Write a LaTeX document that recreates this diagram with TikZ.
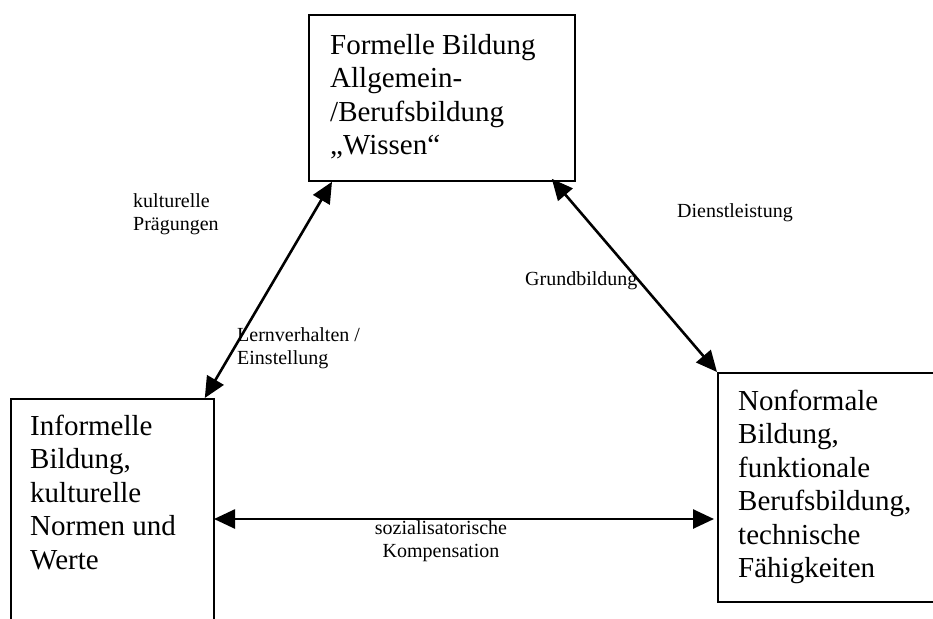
\documentclass[tikz,border=0pt]{standalone}
\usepackage{fontspec}
\setmainfont{Liberation Serif}
\usetikzlibrary{arrows.meta}
\begin{document}
\begin{tikzpicture}[x=1pt,y=-1pt,
  box/.style={draw,line width=1.8pt,inner sep=0pt,anchor=north west},
  big/.style={font=\fontsize{29}{33.5}\selectfont,align=left,inner sep=0pt,anchor=north west},
  small/.style={font=\fontsize{20}{22.5}\selectfont,align=left,inner sep=0pt,anchor=north west},
  link/.style={line width=2.6pt,{Triangle[length=21pt,width=19pt]}-{Triangle[length=21pt,width=19pt]}}]
\useasboundingbox (0,0) rectangle (933,618);
\clip (0,0) rectangle (933,618);
% boxes
\node[box,minimum width=266pt,minimum height=166pt] (top) at (308,14) {};
\node[box,minimum width=203pt,minimum height=260pt] (left) at (10,398) {};
\node[box,minimum width=250pt,minimum height=229pt] (right) at (717,372) {};
% box texts
\node[big] (toptext) at (330,30.5) {\strut Formelle Bildung\\Allgemein-\\/Berufsbildung\\„Wissen“};
\node[big] (lefttext) at (30,411.5) {\strut Informelle\\Bildung,\\kulturelle\\Normen und\\Werte};
\node[big] (righttext) at (738,386.5) {\strut Nonformale\\Bildung,\\funktionale\\Berufsbildung,\\technische\\Fähigkeiten};
% connectors
\coordinate (a1) at ([xshift=24pt]top.south west);
\coordinate (a2) at ([xshift=-10pt]left.north east);
\coordinate (b1) at ([xshift=-24pt,yshift=3pt]top.south east);
\coordinate (b2) at (right.north west);
\coordinate (h1) at (214,519);
\coordinate (h2) at (714,519);
\draw[link] (a2) -- (a1);
\draw[link] (b1) -- (b2);
\draw[link] (h1) -- (h2);
% labels
\node[small] (lkult) at (133,192) {\strut kulturelle\\Prägungen};
\node[small] (llern) at (237,326) {\strut Lernverhalten /\\Einstellung};
\node[small] (ldienst) at (677,202) {\strut Dienstleistung};
\node[small] (lgrund) at (525,270) {\strut Grundbildung};
\node[small,align=center,anchor=north] (lsozial) at (441,519) {\strut sozialisatorische\\Kompensation};
\end{tikzpicture}
\end{document}
